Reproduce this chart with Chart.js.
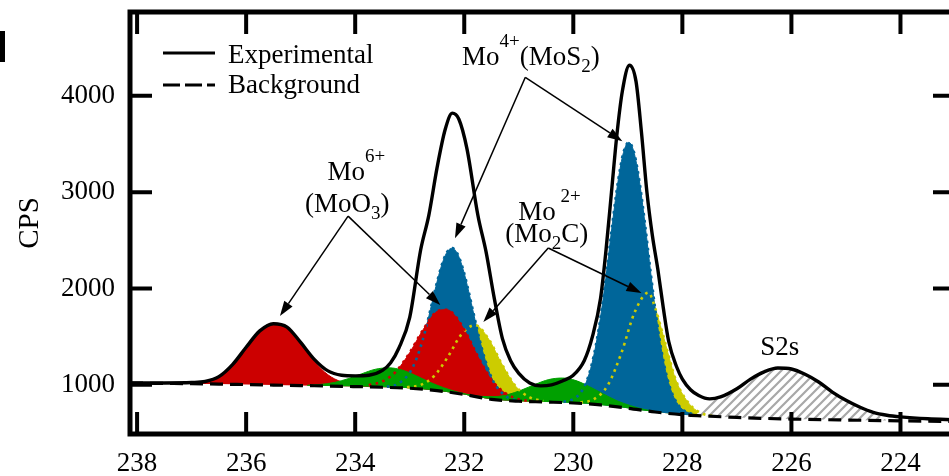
<!DOCTYPE html>
<html>
<head>
<meta charset="utf-8">
<script src="https://cdn.jsdelivr.net/npm/chart.js@4.4.1/dist/chart.umd.min.js"></script>
<style>
  html, body { margin: 0; padding: 0; overflow: hidden; background: #fff; }
  canvas { display: block; }
</style>
</head>
<body>
<canvas id="xps" width="970" height="476"></canvas>
<script>
// binding energy (eV) ticks and CPS ticks
const xTicks = [238, 236, 234, 232, 230, 228, 226, 224];
const yTicks = [1000, 2000, 3000, 4000];

// Shirley-type background
const bgX = [238.13, 238, 237.5, 237, 236.5, 236, 235.5, 235, 234.5, 234, 233.5, 233, 232.5, 232, 231.5, 231, 230.5, 230, 229.5, 229, 228.5, 228, 227.5, 227, 226.5, 226, 225, 224, 223];
const bgY = [1018, 1018, 1015, 1012, 1008, 1003, 998, 993, 988, 982, 975, 965, 940, 900, 850, 830, 822, 812, 792, 758, 718, 690, 675, 662, 652, 645, 635, 627, 620];

// measured spectrum
const expX = [238.13, 237.5, 237, 236.75, 236.5, 236.25, 236, 235.75, 235.5, 235.25, 235, 234.75, 234.5, 234.25, 234, 233.75, 233.5, 233.35, 233.2, 233, 232.8, 232.65, 232.5, 232.35, 232.22, 232.1, 231.95, 231.75, 231.6, 231.45, 231.3, 231.15, 231, 230.8, 230.6, 230.4, 230.2, 230, 229.8, 229.65, 229.5, 229.4, 229.3, 229.2, 229.1, 228.97, 228.85, 228.75, 228.65, 228.55, 228.45, 228.35, 228.25, 228.1, 228, 227.85, 227.7, 227.5, 227.3, 227, 226.75, 226.5, 226.25, 226, 225.75, 225.5, 225.25, 225, 224.75, 224.5, 224.25, 224, 223.5, 223];
const expY = [1020, 1020, 1024, 1035, 1085, 1210, 1390, 1560, 1635, 1600, 1440, 1265, 1145, 1100, 1093, 1100, 1150, 1230, 1380, 1700, 2400, 2760, 3250, 3650, 3820, 3760, 3450, 2760, 2380, 1900, 1480, 1250, 1120, 1020, 990, 1000, 1040, 1100, 1250, 1500, 1900, 2400, 3000, 3600, 4050, 4318, 4150, 3620, 3000, 2550, 2200, 1800, 1450, 1180, 1060, 950, 890, 855, 875, 960, 1060, 1135, 1175, 1165, 1110, 1030, 925, 840, 770, 715, 685, 668, 648, 638];

// Mo6+ (MoO3) doublet
const redAX = [237, 236.75, 236.5, 236.25, 236, 235.75, 235.5, 235.25, 235, 234.75, 234.5, 234.25, 234, 233.75, 233.5];
const redAY = [1012, 1040, 1090, 1215, 1395, 1565, 1640, 1600, 1435, 1245, 1105, 1030, 995, 982, 975];
const redBX = [233.75, 233.5, 233.25, 233, 232.75, 232.5, 232.35, 232.25, 232, 231.75, 231.5, 231.25, 231, 230.75];
const redBY = [996, 1036, 1140, 1335, 1577, 1762, 1780, 1765, 1573, 1294, 1053, 914, 852, 831];

// Mo4+ (MoS2) doublet
const blueAX = [233.42, 233.22, 233.02, 232.92, 232.82, 232.72, 232.62, 232.52, 232.42, 232.32, 232.22, 232.12, 232.02, 231.92, 231.82, 231.72, 231.62, 231.52, 231.42, 231.22, 231.02];
const blueAY = [981, 1008, 1111, 1211, 1360, 1551, 1782, 2021, 2231, 2374, 2419, 2356, 2198, 1972, 1719, 1472, 1266, 1102, 992, 876, 839];
const blueBX = [230.18, 229.98, 229.88, 229.78, 229.68, 229.58, 229.48, 229.38, 229.28, 229.18, 229.08, 228.98, 228.88, 228.78, 228.68, 228.58, 228.48, 228.38, 228.28, 228.18, 228.08, 227.98, 227.78];
const blueBY = [823, 858, 909, 1004, 1172, 1430, 1783, 2217, 2689, 3112, 3412, 3517, 3399, 3084, 2646, 2160, 1711, 1346, 1077, 900, 796, 737, 691];

// Mo2+ (Mo2C) doublet
const yellowAX = [233.05, 232.8, 232.55, 232.3, 232.05, 231.8, 231.55, 231.3, 231.05, 230.8, 230.55];
const yellowAY = [976, 999, 1093, 1291, 1525, 1620, 1473, 1205, 981, 871, 832];
const yellowBX = [229.87, 229.62, 229.37, 229.12, 228.87, 228.62, 228.5, 228.37, 228.25, 228.12, 227.87, 227.62, 227.37];
const yellowBY = [816, 851, 994, 1328, 1760, 1957, 1800, 1550, 1300, 1050, 800, 700, 672];

// green doublet
const greenAX = [234.88, 234.63, 234.38, 234.13, 233.88, 233.63, 233.38, 233.13, 232.88, 232.63, 232.38, 232.13, 231.88];
const greenAY = [996, 1005, 1025, 1064, 1115, 1162, 1177, 1152, 1094, 1027, 971, 927, 893];
const greenBX = [231.95, 231.7, 231.45, 231.2, 230.95, 230.7, 230.45, 230.2, 229.95, 229.7, 229.45, 229.2, 228.95, 228.7, 228.45];
const greenBY = [897, 881, 877, 899, 946, 1005, 1055, 1071, 1044, 980, 906, 835, 784, 745, 719];

// S 2s
const s2sX = [227.75, 227.6, 227.45, 227.25, 227, 226.75, 226.5, 226.25, 226, 225.75, 225.5, 225.25, 225, 224.75, 224.5, 224.25];
const s2sY = [684, 790, 850, 870, 945, 1045, 1128, 1170, 1160, 1105, 1025, 920, 835, 765, 712, 630];

const pts = (xs, ys) => xs.map((x, i) => ({ x: x, y: ys[i] }));

const FONT = '"Liberation Serif", "Times New Roman", serif';
const RED = "#cc0000", BLUE = "#00669a", YELLOW = "#cccc00", GREEN = "#00a000";

// hatch for the S2s area
const tile = document.createElement("canvas");
tile.width = 9; tile.height = 9;
const tc = tile.getContext("2d");
tc.fillStyle = "#fff";
tc.fillRect(0, 0, 9, 9);
tc.strokeStyle = "#a8a8a8";
tc.lineWidth = 2.2;
tc.beginPath();
tc.moveTo(-1, 10); tc.lineTo(10, -1);
tc.moveTo(-1, 1); tc.lineTo(1, -1);
tc.moveTo(8, 10); tc.lineTo(10, 8);
tc.stroke();
const hatch = tc.createPattern(tile, "repeat");

function area(xs, ys, color, order) {
  return {
    data: pts(xs, ys), fill: 0, backgroundColor: color,
    borderColor: color === hatch ? "rgba(0,0,0,0)" : color, borderWidth: 1, order: order
  };
}
function dots(xs, ys, color) {
  return {
    data: pts(xs, ys), fill: false, borderColor: color, borderWidth: 2.6,
    borderDash: [2.6, 4.4], order: 5
  };
}

const datasets = [
  { data: pts(bgX, bgY), fill: false, borderColor: "#000", borderWidth: 3.2, borderDash: [13, 7], order: 2 },
  { data: pts(expX, expY), fill: false, borderColor: "#000", borderWidth: 3.4, order: 1 },
  area(yellowAX, yellowAY, YELLOW, 10),
  area(yellowBX, yellowBY, YELLOW, 10),
  area(blueAX, blueAY, BLUE, 9),
  area(blueBX, blueBY, BLUE, 9),
  area(redAX, redAY, RED, 8),
  area(redBX, redBY, RED, 8),
  area(greenAX, greenAY, GREEN, 7),
  area(greenBX, greenBY, GREEN, 7),
  area(s2sX, s2sY, hatch, 6),
  dots(redBX, redBY, RED),
  dots(blueAX, blueAY, BLUE),
  dots(blueBX, blueBY, BLUE),
  dots(yellowAX, yellowAY, YELLOW),
  dots(yellowBX, yellowBY, YELLOW)
];

// annotation text and arrows, placed in data units
const labels = [
  { x: 234.51, y: 3124, parts: [["Mo"], ["6+", "sup"]] },
  { x: 234.92, y: 2793, parts: [["(MoO"], ["3", "sub"], [")"]] },
  { x: 232.04, y: 4316, parts: [["Mo"], ["4+", "sup"], ["(MoS"], ["2", "sub"], [")"]] },
  { x: 231.01, y: 2710, parts: [["Mo"], [" 2+", "sup"]] },
  { x: 231.25, y: 2482, parts: [["(Mo"], ["2", "sub"], ["C)"]] },
  { x: 226.57, y: 1311, parts: [["S2s"]] }
];
const arrows = [
  [234.13, 2751, 235.38, 1715],
  [234.13, 2751, 232.44, 1829],
  [230.88, 4192, 232.17, 2523],
  [230.88, 4192, 229.10, 3529],
  [230.46, 2420, 231.65, 1653],
  [230.46, 2420, 228.75, 1953]
];

function richText(ctx, parts, x, y) {
  ctx.textAlign = "left";
  ctx.textBaseline = "alphabetic";
  parts.forEach(p => {
    const k = p[1];
    ctx.font = (k ? 19 : 27) + "px " + FONT;
    const dy = k === "sup" ? -18 : k === "sub" ? 7 : 0;
    ctx.fillText(p[0], x, y + dy);
    x += ctx.measureText(p[0]).width;
  });
}

function drawArrow(ctx, x1, y1, x2, y2) {
  const a = Math.atan2(y2 - y1, x2 - x1);
  const len = 15, half = 5;
  const bx = x2 - len * Math.cos(a), by = y2 - len * Math.sin(a);
  ctx.lineWidth = 1.5;
  ctx.beginPath();
  ctx.moveTo(x1, y1);
  ctx.lineTo(bx, by);
  ctx.stroke();
  ctx.beginPath();
  ctx.moveTo(x2, y2);
  ctx.lineTo(bx + half * Math.sin(a), by - half * Math.cos(a));
  ctx.lineTo(bx - half * Math.sin(a), by + half * Math.cos(a));
  ctx.closePath();
  ctx.fill();
}

const decor = {
  id: "decor",
  afterDraw(chart) {
    const ctx = chart.ctx, a = chart.chartArea;
    const xs = chart.scales.x, ys = chart.scales.y;
    ctx.save();
    ctx.strokeStyle = "#000";
    ctx.fillStyle = "#000";

    // frame with inward ticks on all sides
    ctx.lineWidth = 5;
    ctx.strokeRect(a.left, a.top, a.right - a.left, a.bottom - a.top);
    ctx.lineWidth = 4;
    ctx.beginPath();
    xTicks.forEach(v => {
      const px = xs.getPixelForValue(v);
      ctx.moveTo(px, a.bottom); ctx.lineTo(px, a.bottom - 22);
      ctx.moveTo(px, a.top); ctx.lineTo(px, a.top + 22);
    });
    yTicks.forEach(v => {
      const py = ys.getPixelForValue(v);
      ctx.moveTo(a.left, py); ctx.lineTo(a.left + 22, py);
      ctx.moveTo(a.right, py); ctx.lineTo(a.right - 22, py);
    });
    ctx.stroke();

    // axis title
    ctx.save();
    ctx.translate(38, (a.top + a.bottom) / 2);
    ctx.rotate(-Math.PI / 2);
    ctx.font = "29px " + FONT;
    ctx.textAlign = "center";
    ctx.textBaseline = "alphabetic";
    ctx.fillText("CPS", 0, 0);
    ctx.restore();

    // legend
    const lx = a.left + 33, ly = a.top + 41;
    ctx.lineWidth = 3;
    ctx.beginPath();
    ctx.moveTo(lx, ly); ctx.lineTo(lx + 52, ly);
    ctx.stroke();
    ctx.setLineDash([17, 5]);
    ctx.beginPath();
    ctx.moveTo(lx, ly + 32); ctx.lineTo(lx + 52, ly + 32);
    ctx.stroke();
    ctx.setLineDash([]);
    ctx.font = "27px " + FONT;
    ctx.textAlign = "left";
    ctx.fillText("Experimental", lx + 65, ly + 10);
    ctx.fillText("Background", lx + 65, ly + 40);

    // annotations
    labels.forEach(l => richText(ctx, l.parts, xs.getPixelForValue(l.x), ys.getPixelForValue(l.y)));
    arrows.forEach(r => drawArrow(ctx,
      xs.getPixelForValue(r[0]), ys.getPixelForValue(r[1]),
      xs.getPixelForValue(r[2]), ys.getPixelForValue(r[3])));

    // cropped mark at the left edge of the source figure
    ctx.fillRect(0, 31, 5, 31);
    ctx.restore();
  }
};

new Chart(document.getElementById("xps"), {
  type: "line",
  data: { datasets: datasets },
  options: {
    responsive: false,
    animation: false,
    devicePixelRatio: 1,
    layout: { autoPadding: false, padding: { left: 0, top: 12, right: 15, bottom: 0 } },
    elements: {
      point: { radius: 0, hoverRadius: 0 },
      line: { cubicInterpolationMode: "monotone" }
    },
    plugins: { legend: { display: false }, tooltip: { enabled: false } },
    scales: {
      x: {
        type: "linear", reverse: true, min: 223, max: 238.13,
        afterBuildTicks: s => { s.ticks = xTicks.map(v => ({ value: v })); },
        afterFit: s => { s.height = 42; s.paddingLeft = 0; s.paddingRight = 0; },
        grid: { display: false, drawTicks: false },
        border: { display: false },
        ticks: { color: "#000", padding: 14, maxRotation: 0, callback: v => String(v), font: { family: FONT, size: 27 } }
      },
      y: {
        type: "linear", min: 490, max: 4870,
        afterBuildTicks: s => { s.ticks = yTicks.map(v => ({ value: v })); },
        afterFit: s => { s.width = 130; s.paddingTop = 0; s.paddingBottom = 0; },
        grid: { display: false, drawTicks: false },
        border: { display: false },
        ticks: { color: "#000", padding: 15, callback: v => String(v), font: { family: FONT, size: 27 } }
      }
    }
  },
  plugins: [decor]
});
</script>
</body>
</html>
